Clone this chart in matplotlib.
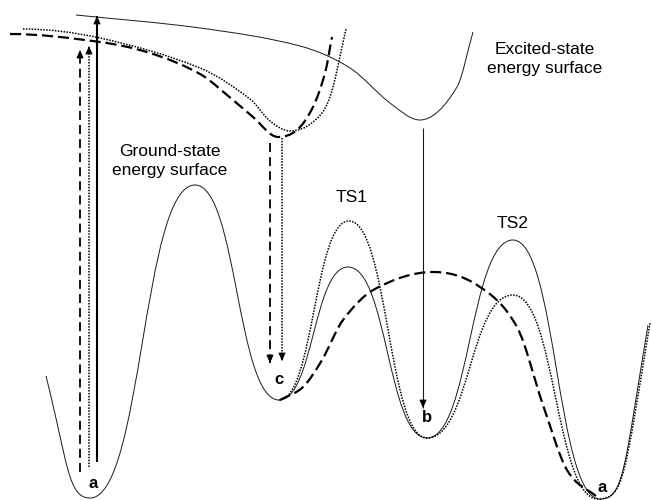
import numpy as np
import matplotlib.pyplot as plt
from matplotlib.path import Path
from matplotlib.patches import PathPatch

plt.rcParams['font.family'] = ['Liberation Sans', 'DejaVu Sans']

# knots (pixel-like units, y grows downwards)
# ground-state surfaces
gs_solid_x = [46, 90, 195, 279, 348, 427, 513, 600, 648]
gs_solid_y = [376, 498, 185, 400, 267, 438, 240, 499, 325]
gs_solid_m = [4, 0, 0, 0, 0, 0, 0, 0, -6]

gs_dotted_x = [279, 349, 427, 513, 598, 650]
gs_dotted_y = [400, 221, 438, 295, 499, 323]
gs_dotted_m = [0, 0, 0, 0, 0, -6]

gs_dashed_x = [280, 303, 322, 343, 375, 433, 477, 517, 543, 567, 597]
gs_dashed_y = [400, 387, 360, 320, 289, 272, 285, 327, 405, 470, 497]
gs_dashed_m = [None] * 5 + [0] + [None] * 5

# excited-state surfaces
es_solid_x = [76, 200, 300, 350, 390, 420, 457, 473]
es_solid_y = [15, 28, 46, 68, 103, 120, 87, 32]
es_solid_m = [None, None, None, None, None, 0, None, None]

es_dotted_x = [23, 100, 200, 250, 270, 290, 313, 330, 346]
es_dotted_y = [29, 38, 68, 99, 121, 131, 122, 97, 29]
es_dotted_m = [0, None, None, None, None, 0, None, None, None]

es_dashed_x = [10, 100, 150, 200, 233, 253, 278, 297, 313, 325, 332]
es_dashed_y = [34, 42, 53, 74, 100, 117, 137, 130, 107, 73, 37]
es_dashed_m = [0, None, None, None, None, None, 0, None, None, None, None]

# vertical transitions
arrow_x = [80, 89, 97, 270, 282, 423]
arrow_from = [472, 467, 462, 143, 138, 128]
arrow_to = [50, 46, 16, 363, 361, 408]
arrow_kind = ['dashed', 'dotted', 'solid', 'dashed', 'dotted', 'thin']

# labels
point_labels = ['a', 'c', 'b', 'a']
point_x = [93, 279, 427, 602]
point_y = [483, 380, 418, 487]

ts_labels = ['TS1', 'TS2']
ts_x = [352, 513]
ts_y = [197, 223]

styles = {
    'solid': dict(color='#1a1a1a', lw=0.7, linestyle='-'),
    'dotted': dict(color='black', lw=1.1, linestyle=(0, (1, 0.9))),
    'dashed': dict(color='black', lw=1.6, linestyle=(0, (5, 2.2))),
}
arrow_styles = {
    'dashed': dict(color='black', lw=1.3, linestyle=(0, (5, 2.8))),
    'dotted': dict(color='black', lw=1.1, linestyle=(0, (1, 0.9))),
    'solid': dict(color='black', lw=1.5, linestyle='-'),
    'thin': dict(color='#1a1a1a', lw=0.8, linestyle='-'),
}


def curve_path(xs, ys, slopes, k):
    xs = np.asarray(xs, float)
    ys = np.asarray(ys, float)
    n = len(xs)
    m = np.zeros(n)
    for i in range(n):
        if slopes[i] is not None:
            m[i] = slopes[i]
        elif i == 0:
            m[i] = (ys[1] - ys[0]) / (xs[1] - xs[0])
        elif i == n - 1:
            m[i] = (ys[-1] - ys[-2]) / (xs[-1] - xs[-2])
        else:
            m[i] = (ys[i + 1] - ys[i - 1]) / (xs[i + 1] - xs[i - 1])
    verts = [(xs[0], ys[0])]
    codes = [Path.MOVETO]
    for i in range(n - 1):
        dx = xs[i + 1] - xs[i]
        dy = ys[i + 1] - ys[i]
        ctrl = []
        for j, sgn in ((i, 1), (i + 1, -1)):
            h = k * dx
            oy = m[j] * h
            lim = 0.9 * abs(dy)
            if abs(oy) > lim > 0:
                h *= lim / abs(oy)
                oy = m[j] * h
            ctrl.append((xs[j] + sgn * h, ys[j] + sgn * oy))
        verts += [ctrl[0], ctrl[1], (xs[i + 1], ys[i + 1])]
        codes += [Path.CURVE4] * 3
    return Path(verts, codes)


fig = plt.figure(figsize=(6.51, 5.0), dpi=100)
ax = fig.add_axes([0, 0, 1, 1])
ax.set_xlim(0, 651)
ax.set_ylim(500, 0)
ax.axis('off')

curves = [
    (gs_solid_x, gs_solid_y, gs_solid_m, 0.5, 'solid'),
    (gs_dotted_x, gs_dotted_y, gs_dotted_m, 0.5, 'dotted'),
    (gs_dashed_x, gs_dashed_y, gs_dashed_m, 1 / 3, 'dashed'),
    (es_solid_x, es_solid_y, es_solid_m, 1 / 3, 'solid'),
    (es_dotted_x, es_dotted_y, es_dotted_m, 1 / 3, 'dotted'),
    (es_dashed_x, es_dashed_y, es_dashed_m, 1 / 3, 'dashed'),
]
for xs, ys, ms, k, kind in curves:
    ax.add_patch(PathPatch(curve_path(xs, ys, ms, k), fill=False,
                           capstyle='butt', **styles[kind]))

# transitions: shaft + small filled head
for x, y0, y1, kind in zip(arrow_x, arrow_from, arrow_to, arrow_kind):
    st = arrow_styles[kind]
    ax.plot([x, x], [y0, y1], solid_capstyle='butt', dash_capstyle='butt', **st)
    back = 7 if y1 < y0 else -7
    ax.annotate('', xy=(x, y1), xytext=(x, y1 + back),
                arrowprops=dict(arrowstyle='-|>,head_length=0.5,head_width=0.22',
                                color='black', lw=0.6, shrinkA=0, shrinkB=0))

for s, x, y in zip(point_labels, point_x, point_y):
    ax.text(x, y, s, ha='center', va='center', fontsize=12, fontweight='bold')
for s, x, y in zip(ts_labels, ts_x, ts_y):
    ax.text(x, y, s, ha='center', va='center', fontsize=12.5)

ax.text(170, 161, 'Ground-state\nenergy surface', ha='center', va='center',
        fontsize=12.5, linespacing=1.25)
ax.text(545, 59, 'Excited-state\nenergy surface', ha='center', va='center',
        fontsize=12.5, linespacing=1.25)

fig.savefig('out.png', dpi=100)
